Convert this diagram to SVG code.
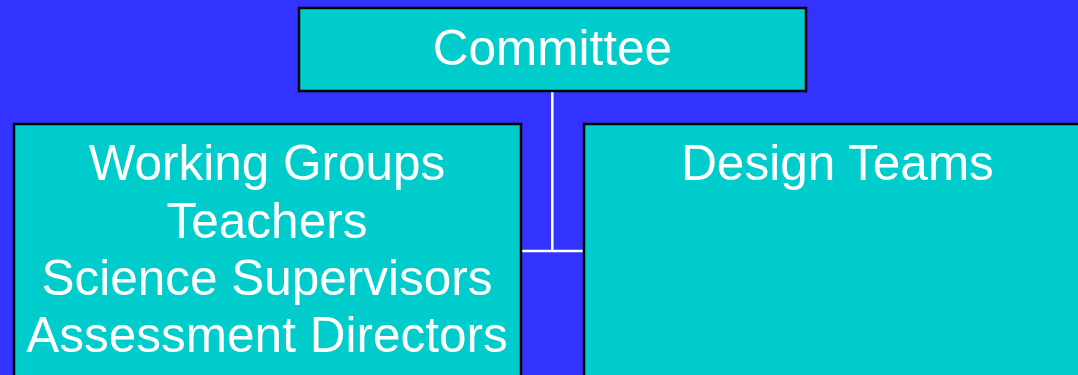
<svg xmlns="http://www.w3.org/2000/svg" width="1078" height="375" viewBox="0 0 1078 375">
  <style>
    .box { fill: #00CCCC; stroke: #000000; stroke-width: 2.5; }
    .lbl { font-family: "Liberation Sans", Arial, sans-serif; font-size: 49.5px; fill: #FFFFFF; text-anchor: middle; }
    .conn { stroke: #FFFFFF; stroke-width: 2.5; fill: none; }
  </style>
  <rect x="0" y="0" width="1078" height="375" fill="#3333FF"/>
  <g id="connectors">
    <line class="conn" x1="552.3" y1="91" x2="552.3" y2="251"/>
    <line class="conn" x1="521" y1="251" x2="583" y2="251"/>
  </g>
  <g id="committee">
    <rect class="box" x="299" y="8" width="507" height="83"/>
    <text class="lbl" x="552.5" y="65">Committee</text>
  </g>
  <g id="working-groups">
    <rect class="box" x="14" y="124" width="507" height="270"/>
    <text class="lbl" x="267" y="180">Working Groups</text>
    <text class="lbl" x="267" y="237.5">Teachers</text>
    <text class="lbl" x="267" y="294.5">Science Supervisors</text>
    <text class="lbl" x="267" y="352">Assessment Directors</text>
  </g>
  <g id="design-teams">
    <rect class="box" x="584" y="124" width="507" height="270"/>
    <text class="lbl" x="837.5" y="180">Design Teams</text>
  </g>
</svg>
